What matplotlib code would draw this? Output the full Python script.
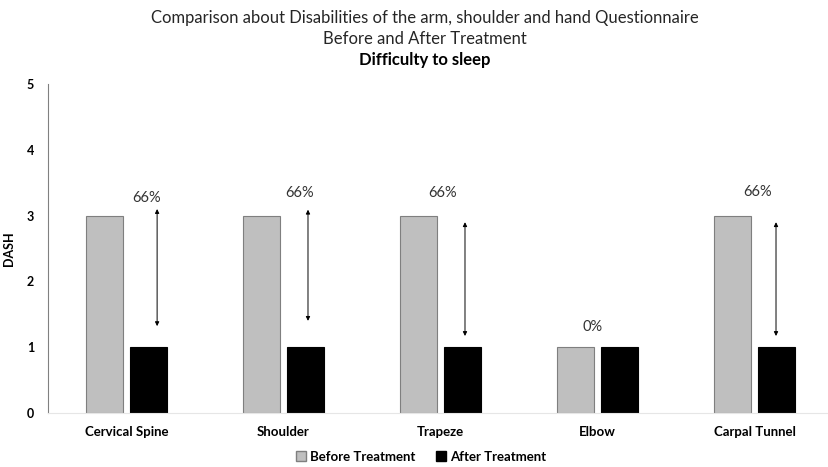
import matplotlib
matplotlib.use("Agg")
import matplotlib.pyplot as plt
import numpy as np
from matplotlib.patches import Patch

categories = ["Cervical Spine", "Shoulder", "Trapeze", "Elbow", "Carpal Tunnel"]
before = [3, 3, 3, 1, 3]
after = [1, 1, 1, 1, 1]
pct_labels = ["66%", "66%", "66%", "0%", "66%"]
label_y = [3.27, 3.34, 3.34, 1.31, 3.36]
label_dx = [0.13, 0.10, 0.01, -0.03, 0.02]
arrow_top = [3.10, 3.09, 2.90, None, 2.90]
arrow_bottom = [1.32, 1.40, 1.17, None, 1.17]
arrow_dx = [0.195, 0.156, 0.156, None, 0.137]

plt.rcParams['font.family'] = ['Lato', 'DejaVu Sans']

fig = plt.figure(figsize=(8.29, 4.67), dpi=100)
ax = fig.add_axes([48/829, 1-413/467, 785/829, (413-84)/467])

x = np.arange(len(categories))
w = 0.23
off = 0.14
ax.bar(x - off, before, width=w, color="#bfbfbf", edgecolor="#7f7f7f", linewidth=0.8, label="Before Treatment")
ax.bar(x + off, after, width=w, color="#000000", edgecolor="#000000", linewidth=0.8, label="After Treatment")

for i in range(len(categories)):
    ax.text(x[i] + label_dx[i], label_y[i], pct_labels[i], ha="center", va="center",
            fontsize=10.5, color="#333333")
    if arrow_top[i] is not None:
        ax.annotate("", xy=(x[i] + arrow_dx[i], arrow_bottom[i]),
                    xytext=(x[i] + arrow_dx[i], arrow_top[i]),
                    arrowprops=dict(arrowstyle="<|-|>", color="black", lw=0.7,
                                    mutation_scale=6, shrinkA=0, shrinkB=0))

ax.set_xlim(-0.5, len(categories) - 0.5)
ax.set_ylim(0, 5)
ax.set_yticks([0, 1, 2, 3, 4, 5])
ax.set_xticks(x)
ax.set_xticklabels(categories, fontsize=9.5, fontweight="bold")
for t in ax.get_yticklabels():
    t.set_fontweight("bold")
    t.set_fontsize(9)
ax.tick_params(axis="both", length=0)
ax.tick_params(axis="y", pad=10)
ax.tick_params(axis="x", pad=9)
ax.set_ylabel("DASH", fontsize=9, fontweight="bold")
ax.yaxis.set_label_coords(-0.042, 0.5)
ax.spines["top"].set_visible(False)
ax.spines["right"].set_visible(False)
ax.spines["left"].set_color("#808080")
ax.spines["left"].set_linewidth(0.8)
ax.spines["bottom"].set_color("#e6e6e6")
ax.spines["bottom"].set_linewidth(0.8)

tx = 425/829
fig.text(tx, 1-18/467, "Comparison about Disabilities of the arm, shoulder and hand Questionnaire",
         ha="center", va="center", fontsize=12, color="#262626")
fig.text(tx, 1-39/467, "Before and After Treatment", ha="center", va="center", fontsize=12, color="#262626")
fig.text(tx, 1-60/467, "Difficulty to sleep", ha="center", va="center", fontsize=12,
         fontweight="bold", color="#000000")

handles = [Patch(facecolor="#bfbfbf", edgecolor="#7f7f7f", label="Before Treatment"),
           Patch(facecolor="#000000", edgecolor="#000000", label="After Treatment")]
fig.legend(handles=handles, loc="center", bbox_to_anchor=(421/829, 1-457/467), ncol=2,
           frameon=False, prop=dict(weight="bold", size=9.5), handlelength=0.8, handleheight=0.8,
           handletextpad=0.3, columnspacing=1.5)

fig.savefig("out.png", dpi=100)
